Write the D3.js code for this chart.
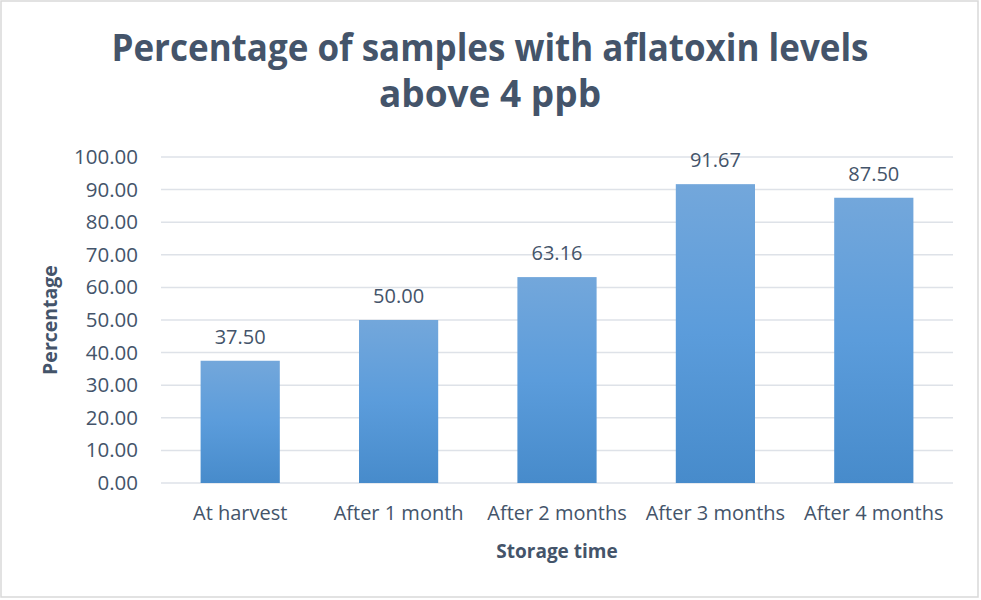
<!DOCTYPE html>
<meta charset="utf-8">
<head>
    <title>Aflatoxin samples</title>
    <script src="https://cdn.jsdelivr.net/npm/d3@7"></script>
</head>

<style>
    body { margin: 0; background: #fff; }
    text { font-family: "Open Sans", sans-serif; fill: #44546A; }
</style>

<svg></svg>

<script>
    // chart data
    var categories = ["At harvest", "After 1 month", "After 2 months", "After 3 months", "After 4 months"];
    var values = [37.50, 50.00, 63.16, 91.67, 87.50];
    var yTicks = [0, 10, 20, 30, 40, 50, 60, 70, 80, 90, 100];

    var vWidth = 981;
    var vHeight = 600;
    var margin = {top: 157, right: 28, bottom: 117, left: 161};

    var svg = d3.select('svg')
        .attr('width', vWidth)
        .attr('height', vHeight);

    // chart border
    svg.append('rect')
        .attr('x', 1).attr('y', 1)
        .attr('width', vWidth - 4).attr('height', vHeight - 4)
        .attr('fill', 'white')
        .attr('stroke', '#D9D9D9')
        .attr('stroke-width', 1.5);

    var defs = svg.append('defs');
    var grad = defs.append('linearGradient')
        .attr('id', 'barGrad')
        .attr('x1', 0).attr('y1', 0).attr('x2', 0).attr('y2', 1);
    grad.append('stop').attr('offset', '0%').attr('stop-color', '#73A7DB');
    grad.append('stop').attr('offset', '50%').attr('stop-color', '#5B9CDB');
    grad.append('stop').attr('offset', '100%').attr('stop-color', '#478BCB');

    var x = d3.scaleBand()
        .domain(categories)
        .range([margin.left, vWidth - margin.right])
        .paddingInner(0.5)
        .paddingOuter(0.25);

    var y = d3.scaleLinear()
        .domain([0, 100])
        .range([vHeight - margin.bottom, margin.top]);

    // gridlines
    svg.append('g')
        .selectAll('line').data(yTicks).enter().append('line')
        .attr('x1', margin.left)
        .attr('x2', vWidth - margin.right)
        .attr('y1', function (d) { return y(d); })
        .attr('y2', function (d) { return y(d); })
        .attr('stroke', '#DEE2E8')
        .attr('stroke-width', 1.5);

    // y axis labels
    var yAxis = d3.axisLeft(y)
        .tickValues(yTicks)
        .tickFormat(d3.format('.2f'))
        .tickSize(0)
        .tickPadding(0);
    svg.append('g')
        .attr('transform', 'translate(' + 138 + ',0)')
        .call(yAxis)
        .call(function (g) { g.select('.domain').remove(); })
        .selectAll('text')
        .attr('font-size', 20.5)
        .attr('font-family', null)
        .style('fill', '#44546A');

    // bars
    svg.append('g')
        .selectAll('rect').data(values).enter().append('rect')
        .attr('x', function (d, i) { return x(categories[i]); })
        .attr('y', function (d) { return y(d); })
        .attr('width', x.bandwidth())
        .attr('height', function (d) { return y(0) - y(d); })
        .attr('fill', 'url(#barGrad)');

    // data labels
    svg.append('g')
        .selectAll('text').data(values).enter().append('text')
        .attr('x', function (d, i) { return x(categories[i]) + x.bandwidth() / 2; })
        .attr('y', function (d) { return y(d) - 17; })
        .attr('text-anchor', 'middle')
        .attr('font-size', 20)
        .text(function (d) { return d.toFixed(2); });

    // x axis labels
    var xAxis = d3.axisBottom(x).tickSize(0).tickPadding(0);
    svg.append('g')
        .attr('transform', 'translate(0,' + (y(0) + 23) + ')')
        .call(xAxis)
        .call(function (g) { g.select('.domain').remove(); })
        .selectAll('text')
        .attr('font-size', 20)
        .attr('font-family', null)
        .style('fill', '#44546A');

    // axis titles
    svg.append('text')
        .attr('x', 557).attr('y', 558)
        .attr('text-anchor', 'middle')
        .attr('font-size', 19)
        .attr('font-weight', 'bold')
        .text('Storage time');

    svg.append('text')
        .attr('transform', 'translate(57,' + 320 + ') rotate(-90)')
        .attr('text-anchor', 'middle')
        .attr('font-size', 19.5)
        .attr('font-weight', 'bold')
        .text('Percentage');

    // title
    var title = svg.append('text')
        .attr('text-anchor', 'middle')
        .attr('font-size', 37)
        .attr('font-weight', 'bold');
    title.append('tspan').attr('x', 490).attr('y', 61)
        .attr('textLength', 757).attr('lengthAdjust', 'spacingAndGlyphs')
        .text('Percentage of samples with aflatoxin levels');
    title.append('tspan').attr('x', 490).attr('y', 107).text('above 4 ppb');
</script>
